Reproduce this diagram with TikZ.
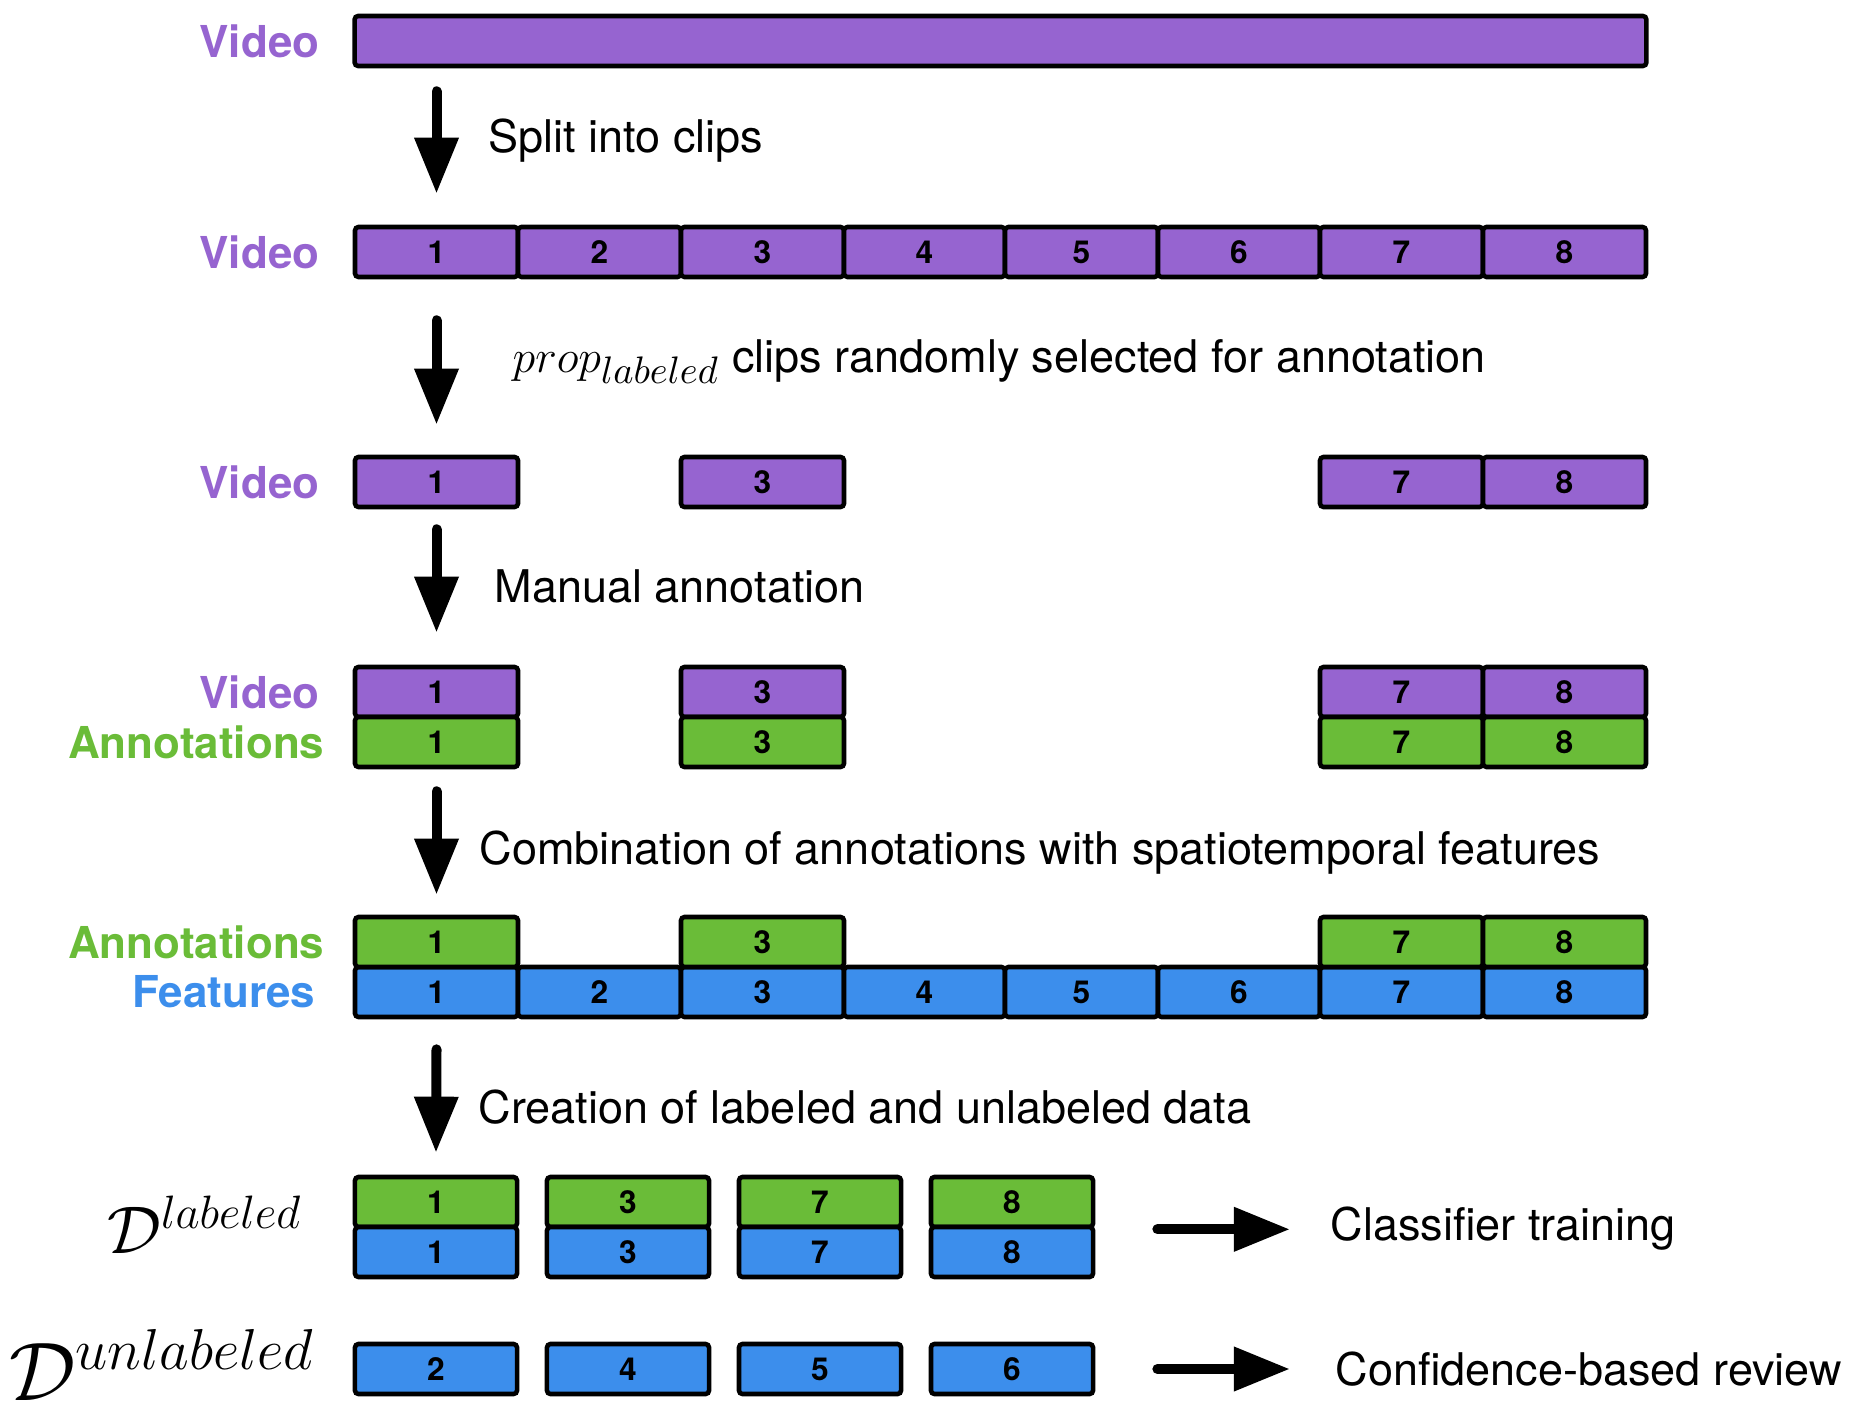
\documentclass[tikz,border=0pt]{standalone}
\usepackage{graphicx}
\usepackage{fontspec}
\setmainfont{TeX Gyre Heros}
\usetikzlibrary{arrows.meta}

\definecolor{vidpurple}{RGB}{150,100,208}
\definecolor{anngreen}{RGB}{106,188,56}
\definecolor{featblue}{RGB}{60,142,236}

\tikzset{
  clipbox/.style={draw, line width=1.3pt, rounded corners=1pt, minimum height=0.5cm,
    inner sep=0pt, font=\fontsize{9}{10}\selectfont\bfseries},
  vidbox/.style={clipbox, fill=vidpurple},
  annbox/.style={clipbox, fill=anngreen},
  featbox/.style={clipbox, fill=featblue},
  rowlabel/.style={anchor=east, inner sep=0pt, font=\fontsize{12.5}{15}\selectfont\bfseries},
  steptext/.style={anchor=base west, inner sep=0pt, font=\fontsize{12.8}{15}\selectfont},
  flow/.style={line width=0.1cm, line cap=round, -{Triangle[length=0.56cm,width=0.42cm]}}
}

% clip number / left edge / right edge
\def\cellsall{1/355/518,2/518/681,3/681/844,4/844/1005,5/1005/1158,6/1158/1320,7/1320/1483,8/1483/1646}
\def\cellssel{1/355/518,3/681/844,7/1320/1483,8/1483/1646}

\begin{document}
\begin{tikzpicture}[x=0.01cm, y=-0.01cm]
    \useasboundingbox (0,0) rectangle (1858,1416);

    % Whole video
    \node[vidbox, minimum width=12.91cm] (bar) at (1000.5,41) {};
    \node[rowlabel, text=vidpurple] (vlab1) at (320,41) {Video};

    % Split into clips
    \foreach \i/\a/\b in \cellsall
        \node[vidbox, minimum width={(\b-\a)*0.01cm}] (v2c\i) at ({(\a+\b)/2},252) {\i};
    \node[rowlabel, text=vidpurple] (vlab2) at (320,252) {Video};

    % Selected clips
    \foreach \i/\a/\b in \cellssel
        \node[vidbox, minimum width={(\b-\a)*0.01cm}] (v3c\i) at ({(\a+\b)/2},482) {\i};
    \node[rowlabel, text=vidpurple] (vlab3) at (320,482) {Video};

    % Annotated clips
    \foreach \i/\a/\b in \cellssel {
        \node[vidbox, minimum width={(\b-\a)*0.01cm}] (v4c\i) at ({(\a+\b)/2},692) {\i};
        \node[annbox, minimum width={(\b-\a)*0.01cm}] (a4c\i) at ({(\a+\b)/2},742) {\i};
    }
    \node[rowlabel, text=vidpurple] (vlab4) at (320,692) {Video};
    \node[rowlabel, text=anngreen] (alab4) at (325,742) {Annotations};

    % Annotations with features
    \foreach \i/\a/\b in \cellsall
        \node[featbox, minimum width={(\b-\a)*0.01cm}] (f5c\i) at ({(\a+\b)/2},992) {\i};
    \foreach \i/\a/\b in \cellssel
        \node[annbox, minimum width={(\b-\a)*0.01cm}] (a5c\i) at ({(\a+\b)/2},942) {\i};
    \node[rowlabel, text=anngreen] (alab5) at (325,942) {Annotations};
    \node[rowlabel, text=featblue] (flab5) at (316,992) {Features};

    % Labeled and unlabeled data
    \foreach \i/\x in {1/436,3/628,7/820,8/1012} {
        \node[annbox, minimum width=1.62cm] (l\i g) at (\x,1202) {\i};
        \node[featbox, minimum width=1.62cm] (l\i b) at (\x,1252) {\i};
    }
    \foreach \i/\x in {2/436,4/628,5/820,6/1012}
        \node[featbox, minimum width=1.62cm] (u\i) at (\x,1369) {\i};
    \node[anchor=base east, inner sep=0pt] (dlab) at (303,1253)
        {\scalebox{1.11}{\fontsize{16}{18}\selectfont$\mathcal{D}^{\mbox{\fontsize{13}{15}\selectfont$labeled$}}$}};
    \node[anchor=base east, inner sep=0pt] (dunlab) at (316,1400)
        {\scalebox{1.14}{\fontsize{20}{22}\selectfont$\mathcal{D}^{\mbox{\fontsize{15}{17}\selectfont$unlabeled$}}$}};

    % Step texts
    \node[steptext] (split) at (488,153) {Split into clips};
    \node[steptext] (select) at (512,373)
        {\scalebox{1.09}{$prop_{\mbox{\fontsize{10.4}{12}\selectfont$labeled$}}$} clips randomly selected for annotation};
    \node[steptext] (manual) at (494,603) {Manual annotation};
    \node[steptext] (combine) at (479,864) {Combination of annotations with spatiotemporal features};
    \node[steptext] (create) at (478,1123) {Creation of labeled and unlabeled data};
    \node[steptext] (train) at (1330,1240) {Classifier training};
    \node[steptext] (review) at (1335,1385) {Confidence-based review};

    % Arrows
    \draw[flow] ([yshift=-0.23cm]bar.south -| v2c1.north) -- ([yshift=0.31cm]v2c1.north);
    \draw[flow] ([yshift=-0.41cm]v2c1.south) -- ([yshift=0.30cm]v3c1.north);
    \draw[flow] ([yshift=-0.20cm]v3c1.south) -- ([yshift=0.32cm]v4c1.north);
    \draw[flow] ([yshift=-0.22cm]a4c1.south) -- ([yshift=0.20cm]a5c1.north);
    \draw[flow] ([yshift=-0.30cm]f5c1.south) -- ([yshift=0.22cm]l1g.north);
    \draw[flow] ([xshift=0.62cm]l8g.south east) -- ([xshift=-0.40cm]train.west |- l8g.south east);
    \draw[flow] ([xshift=0.62cm]u6.east) -- ([xshift=-0.45cm]review.west |- u6.east);
\end{tikzpicture}
\end{document}
